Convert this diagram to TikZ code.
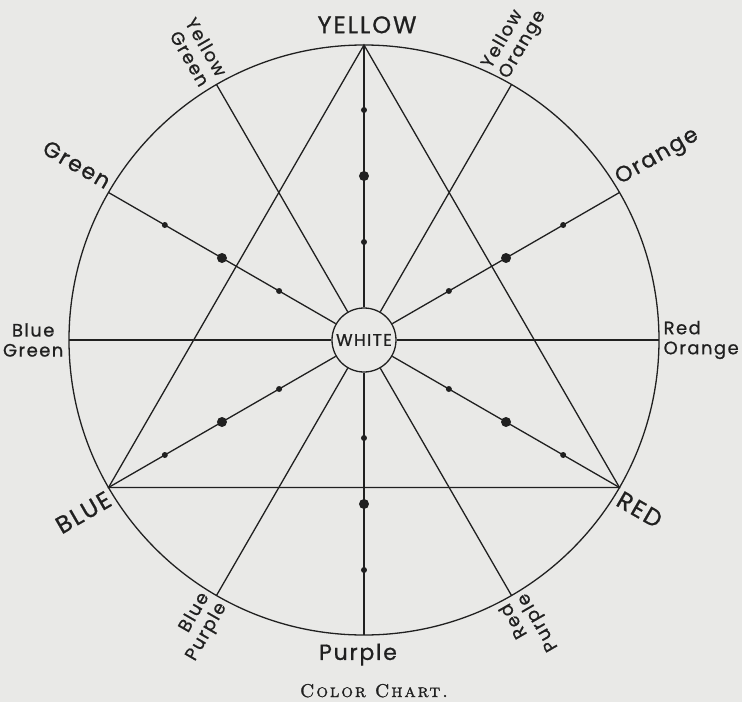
\documentclass[tikz,border=0pt]{standalone}
\usepackage{fontspec}
\newfontfamily\chartfont{Poppins}[LetterSpace=8,FakeBold=0.8]
\newfontfamily\captionfont{lmromancaps10-regular.otf}[LetterSpace=10,FakeBold=1.2]
\definecolor{paper}{RGB}{233,233,231}
\definecolor{ink}{RGB}{32,32,32}
\tikzset{
 primary/.style={font=\chartfont\fontsize{24}{24}\selectfont,inner sep=0pt},
 secondary/.style={font=\chartfont\fontsize{22}{22}\selectfont,inner sep=0pt},
 tertiary/.style={font=\chartfont\fontsize{18}{20}\selectfont,inner sep=0pt},
}
\begin{document}
\begin{tikzpicture}[x=1pt,y=1pt,line width=1.3pt,ink]
 \fill[paper] (-364,-362) rectangle (378,340);
 \useasboundingbox (-364,-362) rectangle (378,340);
 \draw (0,0) circle[radius=295];
 \foreach \n/\a in {yellow/90,yelloworange/60,orange/30,redorange/0,
   red/-30,redpurple/-60,purple/-90,bluepurple/-120,blue/210,
   bluegreen/180,green/150,yellowgreen/120}
  \coordinate (\n) at (\a:295);
 \node[circle,draw,fill=paper,minimum size=64pt,inner sep=0pt,
   font=\chartfont\fontsize{17}{17}\selectfont] (white) at (0,0) {WHITE};
 \foreach \n in {yellow,yelloworange,orange,redorange,red,redpurple,
   purple,bluepurple,blue,bluegreen,green,yellowgreen}
  \draw (white) -- (\n);
 \draw (yellow) -- (blue) -- (red) -- cycle;
 \foreach \a in {90,-90,150,-30,210,30}
  {\fill (\a:98) circle[radius=3];
   \fill (\a:164) circle[radius=5];
   \fill (\a:230) circle[radius=3];}
 % names round the rim
 \node[primary,anchor=south] (yellow-name) at (3,306) {YELLOW};
 \node[tertiary,rotate=60,anchor=south west,align=left]
   (yelloworange-name) at (60:297) {Yellow\\Orange};
 \node[secondary,rotate=30,anchor=south west] (orange-name) at (30:299) {Orange};
 \node[tertiary,anchor=west,align=left] (redorange-name) at (0:299) {Red\\Orange};
 \node[primary,rotate=-30,anchor=north west] (red-name) at (-30:299) {RED};
 \node[tertiary,rotate=120,anchor=east,align=right]
   (redpurple-name) at (-60:299) {Red\\Purple};
 \node[secondary,anchor=north] (purple-name) at (-6,-303) {Purple};
 \node[tertiary,rotate=60,anchor=east,align=right]
   (bluepurple-name) at (-120:299) {Blue\\Purple};
 \node[primary,rotate=30,anchor=north east] (blue-name) at (210:299) {BLUE};
 \node[tertiary,anchor=east,align=center] (bluegreen-name) at (180:300) {Blue\\Green};
 \node[secondary,rotate=-30,anchor=south east] (green-name) at (150:299) {Green};
 \node[tertiary,rotate=-60,anchor=east,align=right]
   (yellowgreen-name) at (120:300) {Yellow\\Green};
 \node[font=\captionfont\fontsize{18.5}{18.5}\selectfont,
   anchor=base] (caption) at (10,-357) {Color Chart.};
\end{tikzpicture}
\end{document}
